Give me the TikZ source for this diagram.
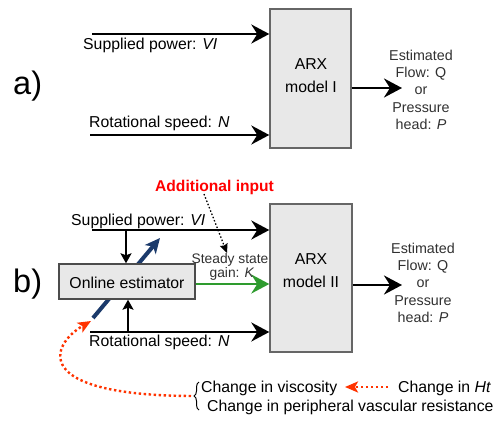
\documentclass[tikz,border=0pt]{standalone}
\usepackage{fontspec}
\setmainfont{Liberation Sans}
\usetikzlibrary{arrows.meta,decorations.pathreplacing}
\definecolor{boxfill}{HTML}{E8E8E8}
\definecolor{boxline}{HTML}{666666}
\definecolor{navy}{HTML}{1B3A6B}
\definecolor{flowgreen}{HTML}{2E9B2E}
\definecolor{alertred}{HTML}{FF3300}
\definecolor{labelred}{HTML}{FF0000}
\definecolor{softtext}{HTML}{303030}
\begin{document}
\begin{tikzpicture}[x=1pt,y=-1pt,
  maintext/.style={font=\fontsize{15.8}{19}\selectfont,inner sep=0pt},
  outtext/.style={font=\fontsize{14.3}{17.3}\selectfont,text=softtext,align=center,inner sep=0pt,anchor=north},
  arxtext/.style={font=\fontsize{15.8}{23}\selectfont,align=center,inner sep=0pt,anchor=north},
  bigtext/.style={font=\fontsize{32.5}{36}\selectfont,inner sep=0pt,anchor=base west},
  block/.style={draw=boxline,fill=boxfill,line width=1.4pt,inner sep=0pt},
  sig/.style={line width=2.8pt,-{Stealth[length=18pt,width=19pt,inset=6pt]}},
  smallsig/.style={line width=2pt,-{Stealth[length=10pt,width=11pt,inset=2pt]}},
  redsig/.style={alertred,line width=2.4pt,dash pattern=on 2.4pt off 2.6pt,-{Stealth[length=13pt,width=11pt,inset=3pt]}},
  blacksig/.style={line width=1.3pt,dash pattern=on 1.5pt off 2pt,-{Stealth[length=9pt,width=8pt,inset=1pt]}}
]
\useasboundingbox (0,0) rectangle (500,433);

% ---------------- a) ----------------
\node[bigtext] (labA) at (13,95) {a)};
\node[block,minimum width=81pt,minimum height=139pt] (arxA) at (310.5,78.5) {};
\node[arxtext] (arxAtxt) at (311,58.7) {ARX\\model I};
\coordinate (pA) at (92,34);
\coordinate (nA) at (90,135);
\coordinate (oA) at (402,88);
\draw[sig] (pA) -- (arxA.west |- pA);
\draw[sig] (nA) -- (arxA.west |- nA);
\draw[sig] (arxA.east |- oA) -- (oA);
\node[maintext,anchor=base west] (pAtxt) at (83,50) {Supplied power: \textit{VI}};
\node[maintext,anchor=base west] (nAtxt) at (89,128) {Rotational speed: \textit{N}};
\node[outtext] (outA) at (421,49.8) {Estimated\\Flow: Q\\or\\Pressure\\head: \textit{P}};

% ---------------- b) ----------------
\node[bigtext] (labB) at (13,292) {b)};
\node[block,minimum width=82pt,minimum height=148pt] (arxB) at (311,278) {};
\node[arxtext] (arxBtxt) at (311,253.7) {ARX\\model II};

\coordinate (blueS) at (93,318);
\coordinate (blueE) at (160,238);
\draw[navy,line width=4pt,-{Stealth[length=15pt,width=14pt,inset=4pt]}] (blueS) -- (blueE);

\node[block,draw=black!70,minimum width=136pt,minimum height=35pt] (est) at (127,281.5) {};
\node[maintext,anchor=base] (esttxt) at (127,288) {Online estimator};

\coordinate (pB) at (92,230);
\coordinate (nB) at (90,332);
\coordinate (oB) at (402,285);
\draw[sig] (pB) -- (arxB.west |- pB);
\draw[sig] (nB) -- (arxB.west |- nB);
\draw[sig,flowgreen] (est.east |- 0,284) -- (arxB.west |- 0,284);
\draw[sig] (arxB.east |- oB) -- (oB);
\draw[smallsig] (126,230) -- (est.north -| 126,0);
\draw[smallsig] (128,332) -- (est.south -| 128,0);

\node[maintext,anchor=base west] (pBtxt) at (71,225) {Supplied power: \textit{VI}};
\node[maintext,anchor=base west] (nBtxt) at (89,346) {Rotational speed: \textit{N}};
\node[outtext] (outB) at (423,242.8) {Estimated\\Flow: Q\\or\\Pressure\\head: \textit{P}};

\node[font=\fontsize{13.8}{14}\selectfont,text=softtext,inner sep=0pt,anchor=base] (ss1) at (230,263) {Steady state};
\node[font=\fontsize{13.8}{14}\selectfont,text=softtext,inner sep=0pt,anchor=base] (ss2) at (232,277) {gain: \textit{K}};

\node[font=\fontsize{15.6}{18}\selectfont\bfseries,text=labelred,inner sep=0pt,anchor=base west] (addin) at (155,191) {Additional input};
\coordinate (addS) at (204,194);
\coordinate (addE) at (227,253);
\draw[blacksig] (addS) -- (addE);

% bottom notes
\node[maintext,anchor=base west] (visc) at (201,392) {Change in viscosity};
\node[maintext,anchor=base west] (pvr) at (207,411) {Change in peripheral vascular resistance};
\node[maintext,anchor=base west] (ht) at (398,392) {Change in \textit{Ht}};
\draw[decorate,decoration={brace,amplitude=5pt},line width=1pt] (199,410) -- (199,382);
\coordinate (braceTip) at (191,396);
\coordinate (redE) at (91,321);
\draw[redsig] (braceTip) .. controls (30,395) and (50,345) .. (redE);
\coordinate (htS) at (388,387);
\coordinate (viscE) at (345,387);
\draw[redsig] (htS) -- (viscE);
\end{tikzpicture}
\end{document}
